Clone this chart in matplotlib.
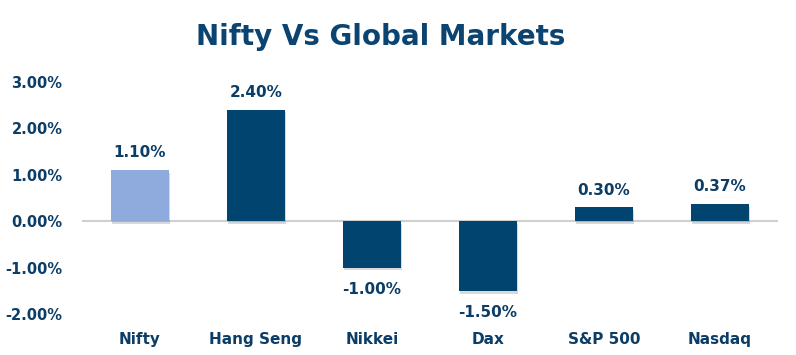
import matplotlib.pyplot as plt
import matplotlib.patheffects as pe
from matplotlib.ticker import FuncFormatter

markets = ["Nifty", "Hang Seng", "Nikkei", "Dax", "S&P 500", "Nasdaq"]
returns = [1.10, 2.40, -1.00, -1.50, 0.30, 0.37]
bar_colors = ["#8FAADC", "#00446F", "#00446F", "#00446F", "#00446F", "#00446F"]
text_color = "#0B3D66"

plt.rcParams['font.family'] = ['DejaVu Sans']

fig = plt.figure(figsize=(7.96, 3.55), dpi=100)
ax = fig.add_axes([0.103, 0.1155, 0.874, 0.654])

x = range(len(markets))
bars = ax.bar(x, returns, width=0.5, color=bar_colors, zorder=3)
shadow = [pe.SimplePatchShadow(offset=(1, -2), shadow_rgbFace="#000000", alpha=0.15), pe.Normal()]
for b in bars:
    b.set_path_effects(shadow)

ax.axhline(0, color="#D0D0D0", lw=1.5, zorder=2)

for xi, v in zip(x, returns):
    off = 0.37 if v >= 0 else -0.47
    ax.text(xi, v + off, f"{v:.2f}%", ha="center", va="center",
            fontsize=11, fontweight="bold", color=text_color)

ax.set_xlim(-0.5, len(markets) - 0.5)
ax.set_ylim(-2, 3)
ax.set_yticks([-2, -1, 0, 1, 2, 3])
ax.yaxis.set_major_formatter(FuncFormatter(lambda v, p: f"{v:.2f}%"))
ax.tick_params(axis="y", length=0, pad=14, labelsize=10.5, labelcolor=text_color)
for lbl in ax.get_yticklabels():
    lbl.set_fontweight("bold")

ax.set_xticks([])
for xi, name in zip(x, markets):
    ax.text(xi, -2.55, name, ha="center", va="center",
            fontsize=11, fontweight="bold", color=text_color, clip_on=False)

for s in ax.spines.values():
    s.set_visible(False)

fig.text(0.478, 0.895, "Nifty Vs Global Markets", ha="center", va="center",
         fontsize=20, fontweight="bold", color="#0B4470")

fig.savefig("out.png", dpi=100, facecolor="white")
